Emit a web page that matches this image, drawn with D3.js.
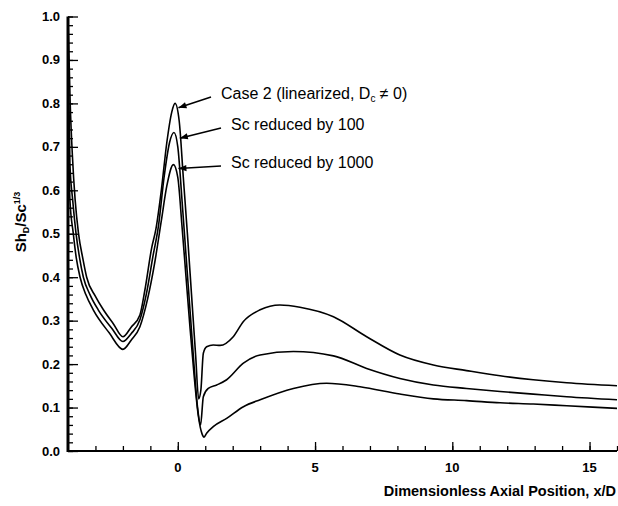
<!DOCTYPE html>
<html>
<head>
<meta charset="utf-8">
<script src="https://cdn.jsdelivr.net/npm/d3@7"></script>
<style>
  body { margin: 0; background: #fff; }
  svg { display: block; font-family: "Liberation Sans", Arial, sans-serif; }
</style>
</head>
<body>
<svg id="chart" width="618" height="506"></svg>
<script>
// =========================
// DATA
// =========================
const case2X = [-4.0, -3.92, -3.84, -3.74, -3.62, -3.45, -3.32, -3.0, -2.71, -2.35, -2.0, -1.7, -1.38, -1.2, -0.95, -0.8, -0.6, -0.4, -0.22, -0.1, 0.05, 0.2, 0.35, 0.5, 0.65, 0.76, 0.84, 0.93, 1.05, 1.29, 1.54, 2.02, 2.39, 3.0, 3.72, 4.45, 5.67, 6.88, 8.09, 9.31, 10.52, 11.74, 12.95, 14.17, 16.0];
const case2Y = [1.0, 0.80, 0.68, 0.578, 0.502, 0.44, 0.40, 0.356, 0.325, 0.293, 0.263, 0.285, 0.313, 0.37, 0.468, 0.51, 0.60, 0.71, 0.78, 0.80, 0.76, 0.63, 0.50, 0.36, 0.22, 0.12, 0.14, 0.225, 0.24, 0.244, 0.243, 0.263, 0.298, 0.325, 0.336, 0.331, 0.309, 0.263, 0.221, 0.198, 0.185, 0.173, 0.164, 0.157, 0.150];

const sc100X = [-4.0, -3.93, -3.83, -3.71, -3.58, -3.44, -3.2, -2.9, -2.4, -2.0, -1.7, -1.38, -1.15, -0.9, -0.7, -0.5, -0.3, -0.14, 0.0, 0.15, 0.3, 0.45, 0.6, 0.72, 0.83, 0.93, 1.11, 1.42, 1.78, 2.39, 3.0, 4.21, 5.67, 6.88, 8.09, 9.31, 10.52, 11.74, 12.95, 14.17, 16.0];
const sc100Y = [0.95, 0.66, 0.578, 0.502, 0.445, 0.40, 0.36, 0.325, 0.282, 0.252, 0.27, 0.302, 0.36, 0.45, 0.52, 0.63, 0.71, 0.733, 0.70, 0.58, 0.45, 0.32, 0.19, 0.10, 0.06, 0.125, 0.144, 0.152, 0.164, 0.202, 0.221, 0.229, 0.219, 0.19, 0.167, 0.152, 0.144, 0.137, 0.131, 0.125, 0.118];

const sc1000X = [-4.0, -3.93, -3.81, -3.7, -3.56, -3.35, -3.08, -2.5, -2.0, -1.7, -1.38, -1.1, -0.85, -0.6, -0.4, -0.16, 0.0, 0.15, 0.3, 0.45, 0.6, 0.75, 0.88, 0.955, 1.05, 1.29, 1.78, 2.39, 3.0, 4.21, 5.42, 6.64, 8.09, 9.31, 10.52, 11.74, 12.95, 14.17, 16.0];
const sc1000Y = [0.80, 0.578, 0.502, 0.445, 0.40, 0.36, 0.325, 0.272, 0.234, 0.255, 0.286, 0.35, 0.43, 0.53, 0.61, 0.659, 0.63, 0.52, 0.40, 0.28, 0.17, 0.08, 0.04, 0.032, 0.041, 0.056, 0.075, 0.102, 0.118, 0.144, 0.156, 0.148, 0.131, 0.12, 0.116, 0.111, 0.108, 0.104, 0.098];

const series = [
  { name: "Case 2", x: case2X, y: case2Y },
  { name: "Sc reduced by 100", x: sc100X, y: sc100Y },
  { name: "Sc reduced by 1000", x: sc1000X, y: sc1000Y }
];

const xTickLabels = [0, 5, 10, 15];
const yTickLabels = [0.0, 0.1, 0.2, 0.3, 0.4, 0.5, 0.6, 0.7, 0.8, 0.9, 1.0];

// annotation arrows: tip at (px, py) in data units, tail at (lx, ly) in pixels
const notes = [
  { text: "Case 2 (linearized, D", sub: "c", tail: " \u2260 0)", px: -0.05, py: 0.79, lx: 211, ly: 97 },
  { text: "Sc reduced by 100", px: 0.0, py: 0.72, lx: 221, ly: 128 },
  { text: "Sc reduced by 1000", px: -0.05, py: 0.65, lx: 221, ly: 166 }
];

// =========================
// LAYOUT
// =========================
const svg = d3.select("#chart");
const plotLeft = 68, plotRight = 617, plotTop = 16.5, plotBottom = 451;

const x = d3.scaleLinear().domain([-4, 16]).range([plotLeft, plotRight]);
const y = d3.scaleLinear().domain([0, 1]).range([plotBottom, plotTop]);

// clip curves to the plot frame
svg.append("defs").append("clipPath").attr("id", "plot-clip")
  .append("rect")
  .attr("x", plotLeft).attr("y", plotTop)
  .attr("width", plotRight - plotLeft).attr("height", plotBottom - plotTop);

// =========================
// AXES (ticks point inward)
// =========================
const xAxisMinor = d3.axisTop(x).tickValues(d3.range(-3, 17, 1)).tickSize(5).tickFormat("");
const xAxisMajor = d3.axisTop(x).tickValues(xTickLabels).tickSize(9).tickFormat("");

svg.append("g").attr("transform", `translate(0,${plotBottom})`).call(xAxisMinor);
svg.append("g").attr("transform", `translate(0,${plotBottom})`).call(xAxisMajor);

const yAxisMinor = d3.axisRight(y).tickValues(d3.range(0, 1.001, 0.02)).tickSize(5).tickFormat("");
const yAxisMajor = d3.axisRight(y).tickValues(yTickLabels).tickSize(10).tickFormat("");

svg.append("g").attr("transform", `translate(${plotLeft},0)`).call(yAxisMinor);
svg.append("g").attr("transform", `translate(${plotLeft},0)`).call(yAxisMajor);

svg.selectAll(".domain").remove();
svg.selectAll(".tick line").attr("stroke", "#000").attr("stroke-width", 1.3);

// axis lines
svg.append("line")
  .attr("x1", plotLeft).attr("x2", plotRight).attr("y1", plotBottom).attr("y2", plotBottom)
  .attr("stroke", "#000").attr("stroke-width", 2.2);
svg.append("line")
  .attr("x1", plotLeft).attr("x2", plotLeft).attr("y1", plotTop).attr("y2", plotBottom + 1)
  .attr("stroke", "#000").attr("stroke-width", 3);

// tick labels
svg.append("g").selectAll("text")
  .data(xTickLabels)
  .join("text")
  .attr("x", d => x(d))
  .attr("y", plotBottom + 21)
  .attr("text-anchor", "middle")
  .attr("font-size", 13)
  .attr("font-weight", "bold")
  .text(d => d);

svg.append("g").selectAll("text")
  .data(yTickLabels)
  .join("text")
  .attr("x", plotLeft - 8)
  .attr("y", d => y(d) + 4.5)
  .attr("text-anchor", "end")
  .attr("font-size", 13)
  .attr("font-weight", "bold")
  .text(d => d.toFixed(1));

// axis titles
svg.append("text")
  .attr("x", 616)
  .attr("y", 496)
  .attr("text-anchor", "end")
  .attr("font-size", 14.5)
  .attr("font-weight", "bold")
  .text("Dimensionless Axial Position, x/D");

const yTitle = svg.append("text")
  .attr("transform", "translate(26,222) rotate(-90)")
  .attr("text-anchor", "middle")
  .attr("font-size", 15)
  .attr("font-weight", "bold");
yTitle.append("tspan").text("Sh");
yTitle.append("tspan").attr("font-size", 9).attr("dy", 3).text("D");
yTitle.append("tspan").attr("dy", -3).text("/Sc");
yTitle.append("tspan").attr("font-size", 9).attr("dy", -6).text("1/3");

// =========================
// CURVES
// =========================
const line = d3.line()
  .x(d => x(d[0]))
  .y(d => y(d[1]))
  .curve(d3.curveMonotoneX);

svg.append("g").attr("clip-path", "url(#plot-clip)")
  .selectAll("path")
  .data(series)
  .join("path")
  .attr("d", s => line(s.x.map((v, i) => [v, s.y[i]])))
  .attr("fill", "none")
  .attr("stroke", "#000")
  .attr("stroke-width", 1.6);

// =========================
// ANNOTATIONS
// =========================
svg.append("defs").append("marker")
  .attr("id", "arrow")
  .attr("viewBox", "0 0 10 10")
  .attr("refX", 10).attr("refY", 5)
  .attr("markerWidth", 12).attr("markerHeight", 8)
  .attr("markerUnits", "userSpaceOnUse")
  .attr("orient", "auto")
  .append("path")
  .attr("d", "M0,1 L10,5 L0,9 Z")
  .attr("fill", "#000");

notes.forEach(n => {
  svg.append("line")
    .attr("x1", n.lx).attr("y1", n.ly)
    .attr("x2", x(n.px) + 2).attr("y2", y(n.py))
    .attr("stroke", "#000")
    .attr("stroke-width", 1.6)
    .attr("marker-end", "url(#arrow)");

  const t = svg.append("text")
    .attr("x", n.lx + 10)
    .attr("y", n.ly + 1.5)
    .attr("font-size", 16);
  t.append("tspan").text(n.text);
  if (n.sub) {
    t.append("tspan").attr("font-size", 10).attr("dy", 3).text(n.sub);
    t.append("tspan").attr("dy", -3).text(n.tail);
  }
});
</script>
</body>
</html>
